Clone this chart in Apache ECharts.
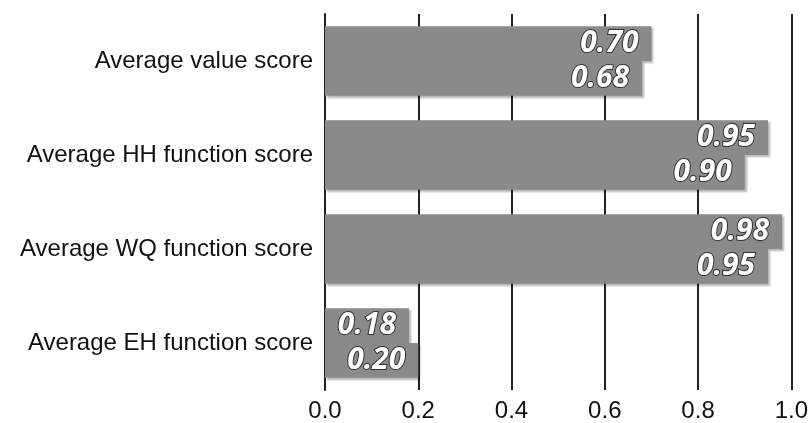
<!DOCTYPE html>
<html><head><meta charset="utf-8">
<script src="https://cdn.jsdelivr.net/npm/echarts@6/dist/echarts.min.js"></script>
<style>html,body{margin:0;padding:0;background:#fff}#c{width:811px;height:423px}</style>
</head><body><div id="c"></div>
<script>
const categories = ["Average value score","Average HH function score","Average WQ function score","Average EH function score"];
const seriesA = [0.70, 0.95, 0.98, 0.18];
const seriesB = [0.68, 0.90, 0.95, 0.20];
const xTicks = [0.0, 0.2, 0.4, 0.6, 0.8, 1.0];

const label = {
  show: true, position: 'insideRight', distance: 13,
  formatter: p => p.value.toFixed(2),
  color: '#fff', fontStyle: 'italic', fontWeight: 'bold', fontSize: 30,
  fontFamily: 'Open Sans', textBorderColor: '#333', textBorderWidth: 2
};
const itemStyle = { color: '#8a8a8a', shadowColor: 'rgba(0,0,0,0.3)', shadowBlur: 2, shadowOffsetX: 2, shadowOffsetY: 2 };
const chart = echarts.init(document.getElementById('c'));
chart.setOption({
  animation: false,
  grid: { left: 325, right: 19, top: 14, bottom: 33 },
  xAxis: {
    type: 'value', min: 0, max: 1, interval: 0.2,
    axisLabel: { formatter: v => v.toFixed(1), color: '#111', fontSize: 24, fontFamily: 'Liberation Sans', margin: 9 },
    axisLine: { show: false }, axisTick: { show: false },
    splitLine: { show: true, lineStyle: { color: '#222', width: 2 } }
  },
  yAxis: {
    type: 'category', data: categories, inverse: true,
    axisLine: { show: true, lineStyle: { color: '#222', width: 2 } }, axisTick: { show: false },
    axisLabel: { color: '#111', fontSize: 24, fontFamily: 'Liberation Sans', margin: 12 }
  },
  series: [
    { type: 'bar', data: seriesA, barGap: '0%', barCategoryGap: '26%', label, itemStyle },
    { type: 'bar', data: seriesB, barGap: '0%', barCategoryGap: '26%', label, itemStyle }
  ]
});
</script></body></html>
